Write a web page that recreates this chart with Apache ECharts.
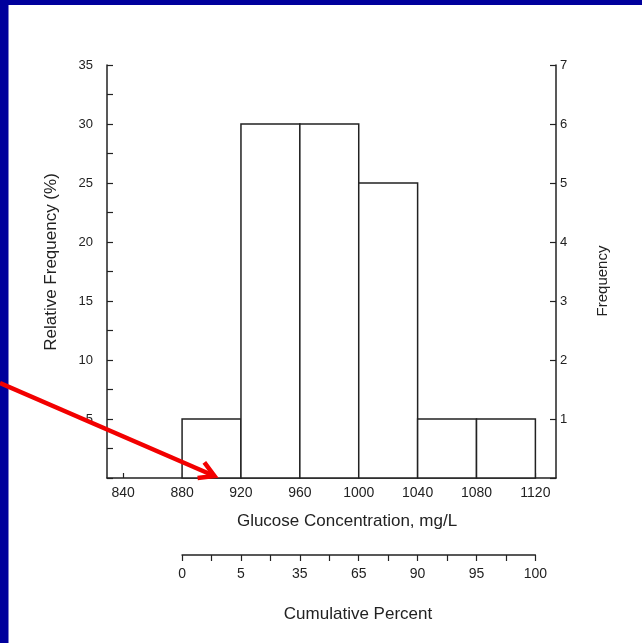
<!DOCTYPE html>
<html>
<head>
<meta charset="utf-8">
<script src="https://cdn.jsdelivr.net/npm/echarts@6/dist/echarts.min.js"></script>
<style>
html,body{margin:0;padding:0;background:#fff;}
#c{width:642px;height:643px;}
</style>
</head>
<body>
<div id="c"></div>
<script>
// ---- data ----
const binEdges = [880, 920, 960, 1000, 1040, 1080, 1120];
const relFreq = [5, 30, 30, 25, 5, 5];            // Relative Frequency (%)
const xTickValues = [840, 880, 920, 960, 1000, 1040, 1080, 1120];
const cumLabels = ['0', '5', '35', '65', '90', '95', '100'];
const arrowTipValue = 902;                          // x value the red arrow points at

const X_MIN = 829, X_MAX = 1134;
const GRID_LEFT = 107, GRID_RIGHT = 86, GRID_TOP = 65, GRID_BOTTOM = 165;
const W = 642, H = 643;

const barData = relFreq.map((v, i) => [binEdges[i], binEdges[i + 1], v]);

const plotW = W - GRID_LEFT - GRID_RIGHT;
const toPx = v => GRID_LEFT + (v - X_MIN) / (X_MAX - X_MIN) * plotW;
const cumLeft = toPx(binEdges[0]);
const cumRight = W - toPx(binEdges[binEdges.length - 1]);

const txt = '#222';
const font = '"Liberation Sans", Arial, Helvetica, sans-serif';

const chart = echarts.init(document.getElementById('c'), null, {renderer: 'canvas'});

const option = {
  backgroundColor: '#fff',
  animation: false,
  textStyle: {fontFamily: font, color: txt},
  grid: [
    {left: GRID_LEFT, right: GRID_RIGHT, top: GRID_TOP, bottom: GRID_BOTTOM},
    {left: cumLeft, right: cumRight, top: 554, height: 1}
  ],
  xAxis: [
    {
      type: 'value', gridIndex: 0, min: X_MIN, max: X_MAX,
      axisLine: {show: true, lineStyle: {color: txt, width: 1.5}},
      axisTick: {show: true, inside: true, length: 5, customValues: xTickValues, lineStyle: {color: txt, width: 1.2}},
      axisLabel: {customValues: xTickValues, margin: 8, fontSize: 14, color: txt, fontFamily: font, formatter: v => String(v)},
      splitLine: {show: false}
    },
    {
      type: 'value', gridIndex: 1, min: binEdges[0], max: binEdges[binEdges.length - 1], interval: 20,
      position: 'bottom',
      axisLine: {show: true, lineStyle: {color: txt, width: 1.5}},
      axisTick: {show: true, inside: false, length: 6, lineStyle: {color: txt, width: 1.2}},
      axisLabel: {
        customValues: binEdges, margin: 12, fontSize: 14, color: txt, fontFamily: font,
        formatter: v => { const i = binEdges.indexOf(v); return i >= 0 ? cumLabels[i] : ''; }
      },
      splitLine: {show: false}
    }
  ],
  yAxis: [
    {
      type: 'value', gridIndex: 0, min: 0, max: 35, interval: 5, position: 'left',
      axisLine: {show: true, lineStyle: {color: txt, width: 1.5}},
      axisTick: {show: true, inside: true, length: 6, lineStyle: {color: txt, width: 1.2}},
      minorTick: {show: true, splitNumber: 2, length: 6, lineStyle: {color: txt, width: 1.2}},
      axisLabel: {margin: 14, fontSize: 13, color: txt, fontFamily: font, formatter: v => v === 0 ? '' : String(v)},
      splitLine: {show: false}
    },
    {
      type: 'value', gridIndex: 0, min: 0, max: 7, interval: 1, position: 'right',
      axisLine: {show: true, lineStyle: {color: txt, width: 1.5}},
      axisTick: {show: true, inside: true, length: 6, lineStyle: {color: txt, width: 1.2}},
      axisLabel: {margin: 4, fontSize: 13, color: txt, fontFamily: font, formatter: v => v === 0 ? '' : String(v)},
      splitLine: {show: false}
    },
    {type: 'value', gridIndex: 1, show: false, min: 0, max: 1}
  ],
  series: [{
    type: 'custom',
    xAxisIndex: 0, yAxisIndex: 0,
    data: barData,
    encode: {x: [0, 1], y: 2},
    renderItem: (params, api) => {
      const p0 = api.coord([api.value(0), api.value(2)]);
      const p1 = api.coord([api.value(1), 0]);
      return {
        type: 'rect',
        shape: {x: p0[0], y: p0[1], width: p1[0] - p0[0], height: p1[1] - p0[1]},
        style: {fill: '#fff', stroke: txt, lineWidth: 1.5}
      };
    }
  }]
};
chart.setOption(option);

// ---- titles, border, arrow ----
const tip = chart.convertToPixel({xAxisIndex: 0, yAxisIndex: 0}, [arrowTipValue, 0]);
tip[1] -= 2;
const start = [0, 383];
const ang = Math.atan2(tip[1] - start[1], tip[0] - start[0]);
const wing = 17, spread = Math.PI / 6;
const w1 = [tip[0] - wing * Math.cos(ang - spread), tip[1] - wing * Math.sin(ang - spread)];
const w2 = [tip[0] - wing * Math.cos(ang + spread), tip[1] - wing * Math.sin(ang + spread)];
const red = '#f20000';
const blue = '#00009c';

chart.setOption({
  graphic: [
    {type: 'rect', shape: {x: 0, y: 0, width: W, height: 5}, style: {fill: blue}, z: 10},
    {type: 'rect', shape: {x: 0, y: 0, width: 8.5, height: H}, style: {fill: blue}, z: 10},
    {type: 'text', x: 51, y: 262, rotation: Math.PI / 2, z: 5,
      style: {text: 'Relative Frequency (%)', font: '17px ' + font, fill: txt, align: 'center', verticalAlign: 'middle'}},
    {type: 'text', x: 603, y: 281, rotation: Math.PI / 2, z: 5,
      style: {text: 'Frequency', font: '15px ' + font, fill: txt, align: 'center', verticalAlign: 'middle'}},
    {type: 'text', x: 347, y: 521, z: 5,
      style: {text: 'Glucose Concentration, mg/L', font: '17px ' + font, fill: txt, align: 'center', verticalAlign: 'middle'}},
    {type: 'text', x: 358, y: 614, z: 5,
      style: {text: 'Cumulative Percent', font: '17px ' + font, fill: txt, align: 'center', verticalAlign: 'middle'}},
    {type: 'polyline', z: 20, shape: {points: [start, tip]}, style: {stroke: red, lineWidth: 4.5, lineCap: 'butt'}},
    {type: 'polyline', z: 20, shape: {points: [w1, tip, w2]}, style: {stroke: red, lineWidth: 4.5, fill: null, lineJoin: 'miter'}}
  ]
});
</script>
</body>
</html>
